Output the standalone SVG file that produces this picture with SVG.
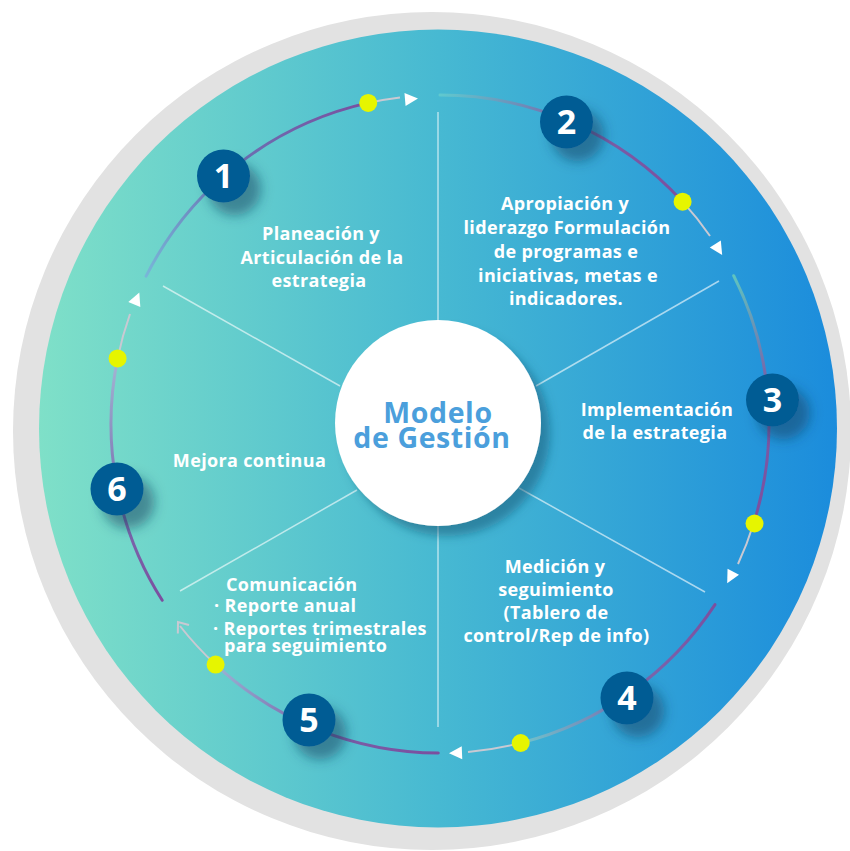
<svg xmlns="http://www.w3.org/2000/svg" width="850" height="851" viewBox="0 0 850 851">
<defs>
<linearGradient id="bg" x1="39" y1="0" x2="838" y2="0" gradientUnits="userSpaceOnUse">
<stop offset="0" stop-color="#7fe0c8"/>
<stop offset="0.5" stop-color="#47b9d2"/>
<stop offset="1" stop-color="#1b8cdc"/>
</linearGradient>
<linearGradient id="gA" x1="146" y1="276" x2="368" y2="103" gradientUnits="userSpaceOnUse">
<stop offset="0" stop-color="#78b6d8"/><stop offset="0.45" stop-color="#6a74b4"/><stop offset="1" stop-color="#7a4f9f"/>
</linearGradient>
<linearGradient id="gB" x1="440" y1="95" x2="683" y2="202" gradientUnits="userSpaceOnUse">
<stop offset="0" stop-color="#5fc9cf"/><stop offset="0.5" stop-color="#7a62a8"/><stop offset="1" stop-color="#7b4f9f"/>
</linearGradient>
<linearGradient id="gC" x1="734" y1="276" x2="754" y2="524" gradientUnits="userSpaceOnUse">
<stop offset="0" stop-color="#5fc4bf"/><stop offset="0.45" stop-color="#7a5ea8"/><stop offset="1" stop-color="#7b4f9f"/>
</linearGradient>
<linearGradient id="gD" x1="715" y1="605" x2="521" y2="743" gradientUnits="userSpaceOnUse">
<stop offset="0" stop-color="#7b4f9f"/><stop offset="0.5" stop-color="#7a6aae"/><stop offset="1" stop-color="#70c4cc"/>
</linearGradient>
<linearGradient id="gE" x1="438" y1="753" x2="216" y2="665" gradientUnits="userSpaceOnUse">
<stop offset="0" stop-color="#7b4f9f"/><stop offset="0.5" stop-color="#7a60a8"/><stop offset="1" stop-color="#9ab4d4"/>
</linearGradient>
<linearGradient id="gF" x1="162" y1="600" x2="118" y2="358" gradientUnits="userSpaceOnUse">
<stop offset="0" stop-color="#7b4f9f"/><stop offset="0.45" stop-color="#7a70b0"/><stop offset="1" stop-color="#a4b6d4"/>
</linearGradient>
<filter id="bshadow" x="-60%" y="-60%" width="220%" height="220%">
<feDropShadow dx="11" dy="13" stdDeviation="6" flood-color="#0b3d5c" flood-opacity="0.5"/>
</filter>
<filter id="cshadow" x="-30%" y="-30%" width="160%" height="160%">
<feDropShadow dx="9" dy="10" stdDeviation="5" flood-color="#0c5370" flood-opacity="0.5"/>
</filter>
</defs>
<style>
.lbl{font-family:"Open Sans","Liberation Sans",sans-serif;font-weight:700;font-size:18px;letter-spacing:0.35px;fill:#ffffff}
.mid{text-anchor:middle}
.num{font-family:"Open Sans","Liberation Sans",sans-serif;font-weight:700;font-size:34px;fill:#ffffff;text-anchor:middle}
.badge{fill:#065c94}
.dot{fill:#e6f500}
.div{stroke:#ffffff;stroke-opacity:0.6;stroke-width:1.5;fill:none}
.main{fill:none;stroke-width:3;stroke-linecap:round}
.tail{fill:none;stroke:#c9c9d2;stroke-width:2}
.arr{fill:#ffffff}
.title{font-family:"Open Sans","Liberation Sans",sans-serif;font-weight:700;font-size:28.5px;letter-spacing:0.6px;fill:#4b9fdc;text-anchor:middle}
</style>
<circle cx="432" cy="431" r="419" fill="#e2e2e2"/>
<circle cx="438" cy="428.5" r="399" fill="url(#bg)"/>

<g id="dividers">
<line class="div" x1="438" y1="112" x2="438" y2="322"/>
<line class="div" x1="438" y1="526" x2="438" y2="727"/>
<line class="div" x1="163" y1="286" x2="340" y2="386"/>
<line class="div" x1="719" y1="281" x2="536" y2="386"/>
<line class="div" x1="705" y1="592" x2="519" y2="488"/>
<line class="div" x1="180" y1="591" x2="357" y2="490"/>
</g>

<g id="connectors">
<path class="main" stroke="url(#gA)" d="M146.1 276.2 A329 329 0 0 1 368.2 102.9"/>
<path class="tail" d="M368.2 102.9 A329 329 0 0 1 400 97.5"/>
<polygon class="arr" points="6,0 -7,-6.5 -7,6.5" transform="translate(412 99) rotate(-4.8)"/>
<path class="main" stroke="url(#gB)" d="M440 95 A329 329 0 0 1 682.6 201.7"/>
<path class="tail" d="M682.6 201.7 A329 329 0 0 1 710 236"/>
<polygon class="arr" points="6,0 -7,-6.5 -7,6.5" transform="translate(719 250) rotate(58)"/>
<path class="main" stroke="url(#gC)" d="M733.7 275.7 A329 329 0 0 1 753.6 523.5"/>
<path class="tail" d="M753.6 523.5 A329 329 0 0 1 738 564"/>
<polygon class="arr" points="6,0 -7,-6.5 -7,6.5" transform="translate(730 578) rotate(118)"/>
<path class="main" stroke="url(#gD)" d="M715 604.6 A329 329 0 0 1 520.7 742.9"/>
<path class="tail" d="M520.7 742.9 A329 329 0 0 1 468 752"/>
<polygon class="arr" points="6,0 -7,-6.5 -7,6.5" transform="translate(455 753) rotate(177.6)"/>
<path class="main" stroke="url(#gE)" d="M438.3 753 A329 329 0 0 1 215.6 664.6"/>
<path class="tail" d="M215.6 664.6 A329 329 0 0 1 180 626"/>
<polyline fill="none" stroke="#c9c9d2" stroke-width="2" points="-9,-7 0,0 -9,7" transform="translate(178 622) rotate(233)"/>
<path class="main" stroke="url(#gF)" d="M162.2 600.3 A329 329 0 0 1 117.6 358.4"/>
<path class="tail" d="M117.6 358.4 A329 329 0 0 1 130 314"/>
<polygon class="arr" points="6,0 -7,-6.5 -7,6.5" transform="translate(137 298) rotate(-67.4)"/>
<circle class="dot" cx="368.2" cy="102.9" r="9"/>
<circle class="dot" cx="682.6" cy="201.7" r="9"/>
<circle class="dot" cx="754.5" cy="523.5" r="9"/>
<circle class="dot" cx="520.7" cy="743" r="9"/>
<circle class="dot" cx="215.6" cy="664.6" r="9"/>
<circle class="dot" cx="117.6" cy="358.4" r="9"/>
</g>

<g id="center">
<circle cx="438" cy="423" r="103" fill="#ffffff" filter="url(#cshadow)"/>
<text class="title" x="438" y="423">Modelo</text>
<text class="title" x="432" y="448">de Gestión</text>
</g>

<g id="node1">
<circle class="badge" cx="223.5" cy="176" r="26.5" filter="url(#bshadow)"/>
<text class="num" x="223.5" y="188">1</text>
<text class="lbl mid" x="321" y="240">Planeación y</text>
<text class="lbl mid" x="322" y="263.5">Articulación de la</text>
<text class="lbl mid" x="319" y="287">estrategia</text>
</g>

<g id="node2">
<circle class="badge" cx="566.5" cy="122" r="26.5" filter="url(#bshadow)"/>
<text class="num" x="566.5" y="134">2</text>
<text class="lbl mid" x="565" y="210">Apropiación y</text>
<text class="lbl mid" x="567" y="233.5">liderazgo Formulación</text>
<text class="lbl mid" x="566" y="257.5">de programas e</text>
<text class="lbl mid" x="568" y="281.5">iniciativas, metas e</text>
<text class="lbl mid" x="566" y="305">indicadores.</text>
</g>

<g id="node3">
<circle class="badge" cx="772.5" cy="400" r="26.5" filter="url(#bshadow)"/>
<text class="num" x="772.5" y="412">3</text>
<text class="lbl mid" x="657" y="416">Implementación</text>
<text class="lbl mid" x="655" y="439">de la estrategia</text>
</g>

<g id="node4">
<circle class="badge" cx="627" cy="698" r="26.5" filter="url(#bshadow)"/>
<text class="num" x="627" y="710">4</text>
<text class="lbl mid" x="555" y="572.5">Medición y</text>
<text class="lbl mid" x="556" y="595.5">seguimiento</text>
<text class="lbl mid" x="556" y="618.5">(Tablero de</text>
<text class="lbl mid" x="556.5" y="641.5">control/Rep de info)</text>
</g>

<g id="node5">
<circle class="badge" cx="309" cy="720" r="26.5" filter="url(#bshadow)"/>
<text class="num" x="309" y="732">5</text>
<text class="lbl" x="226" y="590.5">Comunicación</text>
<text class="lbl" x="214" y="612">· Reporte anual</text>
<text class="lbl" x="213" y="635">· Reportes trimestrales</text>
<text class="lbl" x="224" y="651.5">para seguimiento</text>
</g>

<g id="node6">
<circle class="badge" cx="117" cy="489" r="26.5" filter="url(#bshadow)"/>
<text class="num" x="117" y="501">6</text>
<text class="lbl mid" x="249.5" y="467">Mejora continua</text>
</g>
</svg>
